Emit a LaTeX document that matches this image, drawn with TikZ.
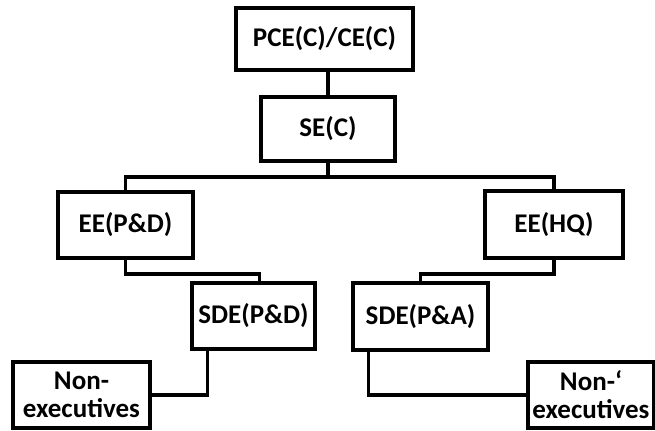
\documentclass[tikz,border=0pt]{standalone}
\usepackage{fontspec}
\setmainfont{Carlito}
\begin{document}
\begin{tikzpicture}[x=0.5pt, y=-0.5pt,
    post/.style={draw, line width=1.8pt, fill=white, inner sep=0pt, align=center,
      font=\bfseries\fontsize{13.5}{14}\selectfont},
    link/.style={line width=1.8pt}]
    \useasboundingbox (0,0) rectangle (655,431);
    \node[post, minimum width=88.5pt, minimum height=31pt] (pce) at (324.5,39) {PCE(C)/CE(C)};
    \node[post, minimum width=67pt, minimum height=32pt] (se) at (328,129) {SE(C)};
    \node[post, minimum width=67.5pt, minimum height=33pt] (eepd) at (125.5,225) {EE(P\&D)};
    \node[post, minimum width=69pt, minimum height=33.5pt] (eehq) at (554,224.5) {EE(HQ)};
    \node[post, minimum width=61.5pt, minimum height=33pt] (sdepd) at (253.5,316) {SDE(P\&D)};
    \node[post, minimum width=67.5pt, minimum height=33.5pt] (sdepa) at (420.5,316.5) {SDE(P\&A)};
    \node[post, minimum width=68.5pt, minimum height=33pt] (nonl) at (81.5,395) {Non-\\executives};
    \node[post, minimum width=63pt, minimum height=33pt] (nonr) at (591,395) {Non-`\\executives};
    \coordinate (bus) at (328,177);
    \draw[link] (pce.south -| se.north) -- (se.north);
    \draw[link] (se) -- (bus);
    \draw[link] (eepd.north) |- (bus) -| (eehq.north);
    \draw[link] (eepd.south) -- ++(0,14) -| ([xshift=3pt]sdepd.north);
    \draw[link] (eehq.south) -- ++(0,14) -| (sdepa.north);
    \draw[link] ([xshift=-23pt]sdepd.south) |- (nonl.east);
    \draw[link] ([xshift=-26pt]sdepa.south) |- (nonr.west);
\end{tikzpicture}
\end{document}
